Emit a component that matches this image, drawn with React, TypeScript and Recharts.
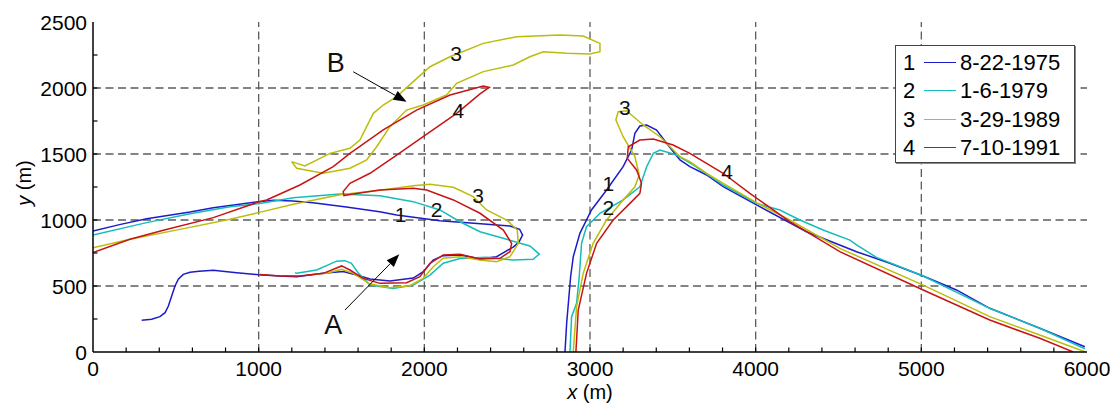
import React from 'react';
import { LineChart, Line, XAxis, YAxis, ReferenceLine, ReferenceDot } from 'recharts';

type Pt = [number, number];

// shoreline traces, [x (m), y (m)]
const blue1975West: Pt[] = [
  [0, 917], [160, 965], [324, 1010], [586, 1060], [726, 1093], [999, 1139], [1090, 1149], [1207, 1144],
  [1328, 1131], [1529, 1098], [1730, 1063], [1833, 1038], [2094, 995], [2300, 975], [2517, 955], [2575, 930],
  [2593, 886], [2570, 830], [2536, 795], [2436, 722], [2336, 707], [2215, 735], [2114, 730], [2053, 697],
  [1994, 609], [1933, 560], [1793, 538], [1672, 553], [1591, 583], [1510, 609], [1390, 597], [1229, 571],
  [1128, 576], [999, 586], [867, 601], [726, 619], [640, 612], [586, 604], [545, 588], [515, 551],
  [495, 500], [475, 424], [455, 348], [435, 298], [404, 268], [354, 248], [294, 240],
];
const blue1975East: Pt[] = [
  [2849, 0], [2859, 217], [2883, 570], [2899, 722], [2939, 899], [3009, 1076], [3100, 1227], [3200, 1404],
  [3251, 1530], [3271, 1657], [3301, 1712], [3342, 1720], [3402, 1682], [3462, 1581], [3543, 1455], [3603, 1404],
  [3704, 1341], [3804, 1252], [4005, 1114], [4307, 911], [4609, 760], [4810, 672], [5011, 576], [5212, 470],
  [5413, 331], [5715, 180], [5987, 40],
];

const cyan1979West: Pt[] = [
  [0, 886], [324, 980], [586, 1048], [827, 1101], [998, 1124], [1209, 1169], [1491, 1197], [1732, 1183],
  [1933, 1139], [2094, 1076], [2215, 987], [2336, 911], [2497, 854], [2637, 803], [2694, 742], [2657, 702],
  [2537, 697], [2376, 717], [2215, 709], [2114, 672], [2034, 583], [1933, 507], [1812, 482], [1672, 507],
  [1600, 600], [1560, 672], [1521, 692], [1470, 688], [1420, 660], [1350, 621], [1229, 596], [1219, 601],
];
const cyan1979East: Pt[] = [
  [2879, 0], [2889, 268], [2919, 369], [2935, 570], [2949, 823], [2979, 949], [3060, 1051], [3200, 1152],
  [3301, 1252], [3342, 1404], [3382, 1505], [3422, 1530], [3522, 1492], [3623, 1417], [3804, 1265], [4005, 1126],
  [4146, 1076], [4267, 1000], [4407, 924], [4569, 848], [4609, 811], [4729, 717], [5011, 576], [5413, 331],
  [5715, 180], [5987, 25],
];

const yellow1989West: Pt[] = [
  [0, 790], [223, 854], [525, 929], [827, 1005], [998, 1056], [1209, 1119], [1491, 1192], [1732, 1225],
  [1933, 1260], [2034, 1270], [2175, 1248], [2295, 1177], [2376, 1076], [2497, 1000], [2561, 924], [2567, 823],
  [2517, 722], [2436, 684], [2336, 697], [2215, 722], [2114, 710], [2054, 646], [1993, 558], [1913, 502],
  [1792, 487], [1672, 515], [1571, 596], [1501, 626], [1410, 596], [1330, 588],
];
const yellow1989Spit: Pt[] = [
  [1199, 1442], [1279, 1409], [1430, 1505], [1551, 1543], [1611, 1606], [1692, 1808], [1752, 1871], [1833, 1934],
  [1933, 2048], [2034, 2161], [2155, 2237], [2356, 2338], [2557, 2389], [2818, 2402], [2959, 2394], [3060, 2338],
  [3060, 2275], [2999, 2258], [2858, 2263], [2718, 2275], [2637, 2237], [2537, 2174], [2356, 2124], [2195, 2035],
  [2134, 1947], [1993, 1871], [1893, 1833], [1792, 1707], [1712, 1555], [1652, 1455], [1551, 1392], [1390, 1354],
  [1229, 1392], [1199, 1442],
];
const yellow1989East: Pt[] = [
  [2899, 0], [2919, 343], [2959, 596], [3019, 823], [3100, 1000], [3200, 1152], [3271, 1252], [3297, 1341],
  [3271, 1480], [3200, 1631], [3156, 1758], [3170, 1820], [3221, 1828], [3321, 1720], [3422, 1631], [3543, 1480],
  [3603, 1442], [3704, 1354], [3804, 1278], [4005, 1131], [4206, 1000], [4508, 785], [5011, 507], [5413, 268],
  [5715, 129], [5987, 2],
];

const red1991West: Pt[] = [
  [0, 753], [223, 854], [425, 922], [726, 1018], [998, 1136], [1048, 1152], [1249, 1265], [1450, 1404],
  [1551, 1505], [1752, 1682], [1953, 1833], [2155, 1947], [2356, 2015], [2392, 2005], [2336, 1955], [2195, 1808],
  [1993, 1631], [1833, 1492], [1672, 1354], [1551, 1278], [1510, 1215], [1515, 1185], [1560, 1195], [1732, 1227],
  [1933, 1240], [2014, 1227], [2175, 1152], [2336, 1051], [2477, 924], [2527, 823], [2517, 760], [2456, 710],
  [2336, 705], [2215, 740], [2114, 735], [2034, 672], [1973, 571], [1893, 525], [1732, 520], [1631, 558],
  [1551, 621], [1501, 652], [1390, 596], [1249, 576], [1128, 576], [1008, 588],
];
const red1991East: Pt[] = [
  [2915, 0], [2929, 318], [2979, 596], [3040, 823], [3140, 1000], [3241, 1126], [3301, 1202], [3311, 1278],
  [3281, 1379], [3225, 1467], [3231, 1555], [3301, 1606], [3382, 1614], [3502, 1568], [3603, 1505], [3804, 1354],
  [3965, 1202], [4106, 1076], [4206, 987], [4508, 760], [5011, 470], [5413, 242], [5715, 104], [5917, 0],
];

const legendNums = ['1', '2', '3', '4'];
const legendDates = ['8-22-1975', '1-6-1979', '3-29-1989', '7-10-1991'];

const X_TICKS = [0, 200, 400, 600, 800, 1000, 1200, 1400, 1600, 1800, 2000, 2200, 2400, 2600, 2800, 3000,
  3200, 3400, 3600, 3800, 4000, 4200, 4400, 4600, 4800, 5000, 5200, 5400, 5600, 5800, 6000];
const Y_TICKS = [0, 250, 500, 750, 1000, 1250, 1500, 1750, 2000, 2250, 2500];
const X_GRID = [1000, 2000, 3000, 4000, 5000];
const Y_GRID = [500, 1000, 1500, 2000];

// curve labels inside the plot
const curveTags: { x: number; y: number; text: string; big?: boolean }[] = [
  { x: 2191, y: 2263, text: '3' },
  { x: 2205, y: 1833, text: '4' },
  { x: 1857, y: 1045, text: '1' },
  { x: 2074, y: 1081, text: '2' },
  { x: 2325, y: 1182, text: '3' },
  { x: 3211, y: 1856, text: '3' },
  { x: 3110, y: 1278, text: '1' },
  { x: 3110, y: 1096, text: '2' },
  { x: 3828, y: 1366, text: '4' },
  { x: 1450, y: 205, text: 'A', big: true },
  { x: 1466, y: 2192, text: 'B', big: true },
];
const arrows = [
  { from: { x: 1521, y: 318 }, to: { x: 1849, y: 740 } },
  { from: { x: 1571, y: 2123 }, to: { x: 1893, y: 1896 } },
];

const BLUE = '#1c1cc8';
const CYAN = '#16bcbc';
const YELLOW = '#bcbc0a';
const RED = '#c81414';
const COLORS = [BLUE, CYAN, YELLOW, RED];
const FONT = '"Liberation Sans", Arial, Helvetica, sans-serif';

const segments = [
  { id: 'b-w', color: BLUE, pts: blue1975West },
  { id: 'b-e', color: BLUE, pts: blue1975East },
  { id: 'c-w', color: CYAN, pts: cyan1979West },
  { id: 'c-e', color: CYAN, pts: cyan1979East },
  { id: 'y-w', color: YELLOW, pts: yellow1989West },
  { id: 'y-s', color: YELLOW, pts: yellow1989Spit },
  { id: 'y-e', color: YELLOW, pts: yellow1989East },
  { id: 'r-w', color: RED, pts: red1991West },
  { id: 'r-e', color: RED, pts: red1991East },
];

const toRows = (pts: Pt[]) => pts.map(([x, y]) => ({ x, y }));

function Arrow(p: any) {
  const { x1, y1, x2, y2 } = p;
  const a = Math.atan2(y2 - y1, x2 - x1);
  const L = 13, W = 5;
  const bx = x2 - L * Math.cos(a), by = y2 - L * Math.sin(a);
  const head = `${x2},${y2} ${bx + W * Math.sin(a)},${by - W * Math.cos(a)} ${bx - W * Math.sin(a)},${by + W * Math.cos(a)}`;
  return (
    <g>
      <line x1={x1} y1={y1} x2={bx} y2={by} stroke="#000" strokeWidth={1} />
      <polygon points={head} fill="#000" />
    </g>
  );
}

// Axis ticks drawn by hand so they point into the plot (MATLAB style).
// Recharts puts (x, y) at axis + tickSize(6) + tickMargin(0).
const TL = 4.5;
const isEnd = (v: number, max: number) => v === 0 || v === max;

function BottomTick(p: any) {
  const { x, y, payload } = p;
  const v = payload.value as number;
  return (
    <g>
      {!isEnd(v, 6000) && <line x1={x} y1={y - 6} x2={x} y2={y - 6 - TL} stroke="#000" strokeWidth={1.2} />}
      {v % 1000 === 0 && (
        <text x={x} y={y + 3} dy="0.71em" textAnchor="middle" fontSize={21} fontFamily={FONT} fill="#000">{v}</text>
      )}
    </g>
  );
}
function TopTick(p: any) {
  const { x, y, payload } = p;
  if (isEnd(payload.value, 6000)) return <g />;
  return <line x1={x} y1={y + 6} x2={x} y2={y + 6 + TL} stroke="#000" strokeWidth={1.2} />;
}
function LeftTick(p: any) {
  const { x, y, payload } = p;
  const v = payload.value as number;
  return (
    <g>
      {!isEnd(v, 2500) && <line x1={x + 6} y1={y} x2={x + 6 + TL} y2={y} stroke="#000" strokeWidth={1.2} />}
      {v % 500 === 0 && (
        <text x={x} y={y} dy="0.36em" textAnchor="end" fontSize={21} fontFamily={FONT} fill="#000">{v}</text>
      )}
    </g>
  );
}
function RightTick(p: any) {
  const { x, y, payload } = p;
  if (isEnd(payload.value, 2500)) return <g />;
  return <line x1={x - 6} y1={y} x2={x - 6 - TL} y2={y} stroke="#000" strokeWidth={1.2} />;
}

const axisStroke = { stroke: '#000', strokeWidth: 1.5 };

export default function App() {
  return (
    <div style={{ position: 'absolute', left: 0, top: 0, width: 1117, height: 403, background: '#fff', fontFamily: FONT }}>
      <LineChart width={1117} height={403} margin={{ top: 22, right: 30, bottom: 11, left: 33 }}>
        <XAxis
          dataKey="x" type="number" domain={[0, 6000]} allowDataOverflow
          ticks={X_TICKS} interval={0} height={40}
          tickLine={false} tickSize={6} tickMargin={0}
          tick={BottomTick} axisLine={axisStroke}
        />
        <XAxis
          xAxisId="top" orientation="top" type="number" domain={[0, 6000]} allowDataOverflow
          ticks={X_TICKS} interval={0} height={0} tickLine={false} tickSize={6} tickMargin={0}
          tick={TopTick} axisLine={axisStroke}
        />
        <YAxis
          type="number" domain={[0, 2500]} allowDataOverflow
          ticks={Y_TICKS} interval={0} width={60}
          tickLine={false} tickSize={6} tickMargin={0}
          tick={LeftTick} axisLine={axisStroke}
        />
        <YAxis
          yAxisId="right" orientation="right" type="number" domain={[0, 2500]} allowDataOverflow
          ticks={Y_TICKS} interval={0} width={0} tickLine={false} tickSize={6} tickMargin={0}
          tick={RightTick} axisLine={axisStroke}
        />

        {X_GRID.map(v => (
          <ReferenceLine key={'gx' + v} x={v} stroke="#5c5c5c" strokeWidth={1.3} strokeDasharray="8 4.5" />
        ))}
        {Y_GRID.map(v => (
          <ReferenceLine key={'gy' + v} y={v} stroke="#5c5c5c" strokeWidth={1.3} strokeDasharray="8 4.5" />
        ))}

        {segments.map(s => (
          <Line
            key={s.id} data={toRows(s.pts)} dataKey="y" type="linear"
            stroke={s.color} strokeWidth={1.5} dot={false} activeDot={false}
            legendType="none" isAnimationActive={false}
          />
        ))}

        {arrows.map((a, i) => (
          <ReferenceLine key={'ar' + i} segment={[a.from, a.to]} shape={Arrow} ifOverflow="visible" />
        ))}
        {curveTags.map((t, i) => (
          <ReferenceDot
            key={'t' + i} x={t.x} y={t.y} ifOverflow="visible"
            shape={(p: any) => (
              <text x={p.cx} y={p.cy} textAnchor="middle" dominantBaseline="central"
                fontSize={t.big ? 27 : 21} fontFamily={FONT} fill="#111">{t.text}</text>
            )}
          />
        ))}
      </LineChart>

      {/* axis titles */}
      <div style={{ position: 'absolute', left: 560, top: 381, width: 60, textAlign: 'center', fontSize: 20, lineHeight: '22px' }}>
        <i>x</i> (m)
      </div>
      <div style={{
        position: 'absolute', left: -6, top: 172, width: 60, textAlign: 'center', fontSize: 20, lineHeight: '22px',
        transform: 'rotate(-90deg)',
      }}>
        <i>y</i> (m)
      </div>

      {/* legend */}
      <div style={{
        position: 'absolute', left: 895, top: 45, width: 180, height: 118, boxSizing: 'border-box',
        border: '1px solid #444', background: '#fff', boxShadow: '1px 1px 0 #888',
      }}>
        {legendDates.map((d, i) => (
          <div key={d} style={{ position: 'absolute', left: 0, top: 3 + i * 28.3, height: 28, width: 178, fontSize: 22, lineHeight: '28px' }}>
            <span style={{ position: 'absolute', left: 5, width: 16, textAlign: 'center' }}>{legendNums[i]}</span>
            <span style={{ position: 'absolute', left: 28, top: 13, width: 32, height: 0, borderTop: `1.5px solid ${COLORS[i]}` }} />
            <span style={{ position: 'absolute', left: 64 }}>{d}</span>
          </div>
        ))}
      </div>
    </div>
  );
}
